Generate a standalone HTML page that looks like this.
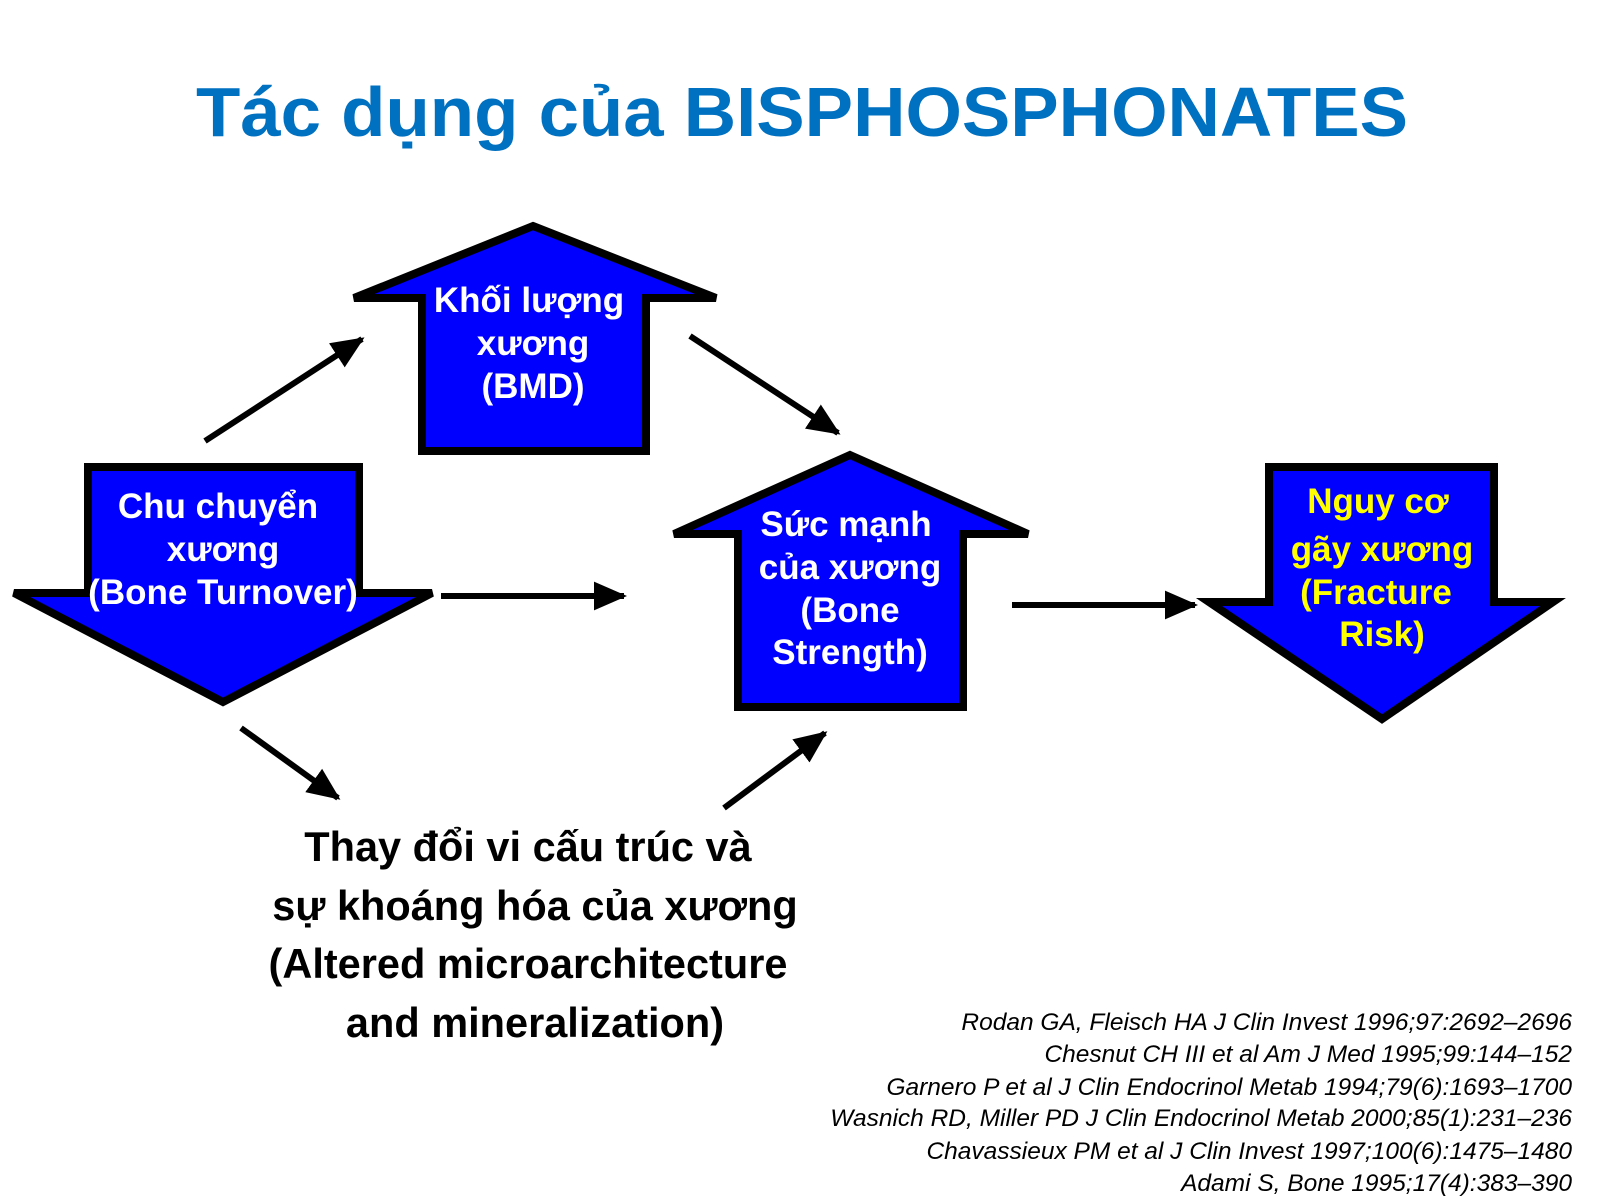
<!DOCTYPE html>
<html><head><meta charset="utf-8"><style>body{margin:0;background:#fff}svg{display:block}</style></head><body>
<svg width="1600" height="1200" viewBox="0 0 1600 1200" xmlns="http://www.w3.org/2000/svg">
<defs><marker id="ah" markerWidth="6" markerHeight="6" refX="5" refY="3" orient="auto" markerUnits="strokeWidth"><path d="M0,0.6 L5.5,3 L0,5.4 Z" fill="#000"/></marker></defs>
<text x="802" y="136" text-anchor="middle" font-family="Liberation Sans, sans-serif" font-weight="bold" font-size="70" fill="#0070C0" textLength="1212" lengthAdjust="spacingAndGlyphs">Tác dụng của BISPHOSPHONATES</text>
<g fill="#0000FF" stroke="#000" stroke-width="8" stroke-linejoin="miter">
<polygon points="533,226 716,298 646,298 646,451 422,451 422,298 354,298"/>
<polygon points="88,467 359,467 359,593 432,593 223,702 14,593 88,593"/>
<polygon points="850,455 1028,534 963,534 963,707 738,707 738,534 674,534"/>
<polygon points="1269,467 1494,467 1494,602 1553,602 1382,719 1209,602 1269,602"/>
</g>
<g stroke="#000" stroke-width="6" marker-end="url(#ah)">
<line x1="205" y1="441" x2="362" y2="339"/>
<line x1="690" y1="336" x2="838" y2="433"/>
<line x1="441" y1="596" x2="624" y2="596"/>
<line x1="1012" y1="605" x2="1195" y2="605"/>
<line x1="241" y1="728" x2="338" y2="798"/>
<line x1="724" y1="808" x2="825" y2="733"/>
</g>
<g font-family="Liberation Sans, sans-serif" font-weight="bold" font-size="35" fill="#fff" text-anchor="middle">
<text x="529" y="312">Khối lượng</text><text x="533" y="355">xương</text><text x="533" y="398">(BMD)</text>
<text x="218" y="518">Chu chuyển</text><text x="223" y="561">xương</text><text x="223" y="604">(Bone Turnover)</text>
<text x="846" y="536">Sức mạnh</text><text x="850" y="579">của xương</text><text x="850" y="622">(Bone</text><text x="850" y="664">Strength)</text>
<g fill="#FFFF00"><text x="1378" y="513">Nguy cơ</text><text x="1382" y="561">gãy xương</text><text x="1376" y="604">(Fracture</text><text x="1382" y="646">Risk)</text></g>
</g>
<g font-family="Liberation Sans, sans-serif" font-weight="bold" font-size="41.5" fill="#000" text-anchor="middle">
<text x="528" y="861">Thay đổi vi cấu trúc và</text>
<text x="535" y="920">sự khoáng hóa của xương</text>
<text x="528" y="978">(Altered microarchitecture</text>
<text x="535" y="1037">and mineralization)</text>
</g>
<g font-family="Liberation Sans, sans-serif" font-style="italic" font-size="24.5" fill="#000" text-anchor="end">
<text x="1572" y="1030">Rodan GA, Fleisch HA J Clin Invest 1996;97:2692–2696</text>
<text x="1572" y="1062">Chesnut CH III et al Am J Med 1995;99:144–152</text>
<text x="1572" y="1095">Garnero P et al J Clin Endocrinol Metab 1994;79(6):1693–1700</text>
<text x="1572" y="1126">Wasnich RD, Miller PD J Clin Endocrinol Metab 2000;85(1):231–236</text>
<text x="1572" y="1159">Chavassieux PM et al J Clin Invest 1997;100(6):1475–1480</text>
<text x="1572" y="1191">Adami S, Bone 1995;17(4):383–390</text>
</g>
</svg>
</body></html>
